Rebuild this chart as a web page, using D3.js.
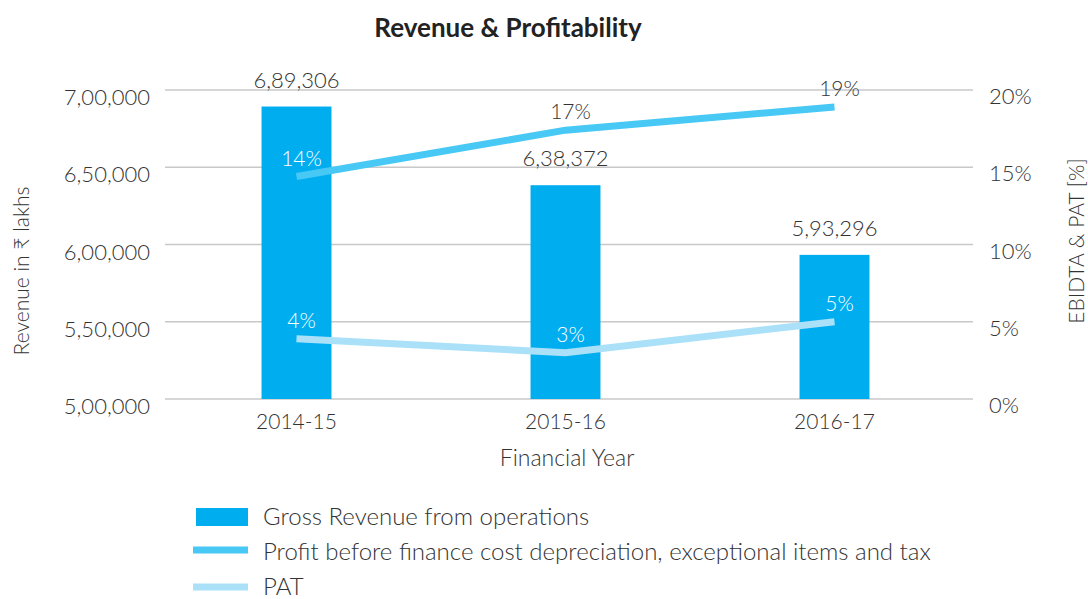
<!DOCTYPE html>
<html lang="en">
<head>
  <meta charset="UTF-8" />
  <title>Revenue & Profitability</title>
  <script src="https://d3js.org/d3.v7.min.js"></script>
  <style>
    html, body {
      margin: 0;
      padding: 0;
      background: #fff;
      overflow: hidden;
    }
    svg {
      display: block;
      font-family: 'Lato', 'Noto Sans', sans-serif;
      font-weight: 300;
      fill: #333;
    }
    .grid line { stroke: #c8c8c8; stroke-width: 1.5px; }
    .tick-lbl { font-size: 22px; fill: #333; }
  </style>
</head>
<body>
  <svg width="1088" height="599"></svg>

  <script>
    const years = ["2014-15", "2015-16", "2016-17"];
    const revenue = [689306, 638372, 593296];
    const ebitda = [14.4, 17.4, 18.9];
    const pat = [3.9, 3.0, 5.0];
    const revTicks = [500000, 550000, 600000, 650000, 700000];
    const pctTicks = [0, 5, 10, 15, 20];
    const legendLabels = [
      "Gross Revenue from operations",
      "Profit before finance cost depreciation, exceptional items and tax",
      "PAT"
    ];

    const svg = d3.select("svg");
    const colBar = "#00aeef", colEbitda = "#48c8f4", colPat = "#aae1f9";

    const x = d3.scaleBand().domain(years).range([162, 969])
      .paddingInner(0.74).paddingOuter(0.37);
    const yL = d3.scaleLinear().domain([500000, 700000]).range([399, 90]);
    const yR = d3.scaleLinear().domain([0, 20]).range([399, 90]);
    const indianFmt = v => Math.round(v).toLocaleString("en-IN");
    const cx = d => x(d) + x.bandwidth() / 2;

    // title
    svg.append("text")
      .attr("x", 508).attr("y", 37)
      .attr("text-anchor", "middle")
      .style("font-size", "26px").style("font-weight", 700).style("fill", "#222")
      .text("Revenue & Profitability");

    // gridlines
    svg.append("g").attr("class", "grid")
      .selectAll("line").data(revTicks).enter().append("line")
      .attr("x1", 165).attr("x2", 973)
      .attr("y1", d => yL(d)).attr("y2", d => yL(d));

    // left axis labels
    svg.append("g").selectAll("text").data(revTicks).enter().append("text")
      .attr("class", "tick-lbl")
      .attr("x", 150).attr("y", d => yL(d) + 15)
      .attr("text-anchor", "end")
      .text(indianFmt);

    // right axis labels
    svg.append("g").selectAll("text").data(pctTicks).enter().append("text")
      .attr("class", "tick-lbl")
      .attr("x", 989).attr("y", d => yR(d) + 14)
      .text(d => d + "%");

    // x labels
    svg.append("g").selectAll("text").data(years).enter().append("text")
      .attr("class", "tick-lbl")
      .style("font-size", "21px")
      .attr("x", cx).attr("y", 429)
      .attr("text-anchor", "middle")
      .text(d => d);

    // axis titles
    svg.append("text")
      .attr("transform", "translate(29,271) rotate(-90)")
      .attr("text-anchor", "middle")
      .style("font-size", "21px").style("fill", "#333")
      .text("Revenue in ₹ lakhs");
    svg.append("text")
      .attr("transform", "translate(1084,241) rotate(-90)")
      .attr("text-anchor", "middle")
      .style("font-size", "21px").style("fill", "#333")
      .text("EBIDTA & PAT [%]");
    svg.append("text")
      .attr("x", 567).attr("y", 466)
      .attr("text-anchor", "middle")
      .style("font-size", "23px").style("fill", "#333")
      .text("Financial Year");

    // bars
    svg.append("g").selectAll("rect").data(years).enter().append("rect")
      .attr("x", d => x(d))
      .attr("width", x.bandwidth())
      .attr("y", (d, i) => yL(revenue[i]))
      .attr("height", (d, i) => yL(500000) - yL(revenue[i]))
      .attr("fill", colBar);

    svg.append("g").selectAll("text").data(years).enter().append("text")
      .attr("class", "tick-lbl")
      .attr("x", cx)
      .attr("y", (d, i) => yL(revenue[i]) - 19)
      .attr("text-anchor", "middle")
      .text((d, i) => indianFmt(revenue[i]));

    // lines
    const line = d3.line().x(d => cx(d[0])).y(d => yR(d[1]));
    [[ebitda, colEbitda], [pat, colPat]].forEach(([vals, col]) => {
      svg.append("path")
        .datum(years.map((y, i) => [y, vals[i]]))
        .attr("d", line)
        .attr("fill", "none")
        .attr("stroke", col)
        .attr("stroke-width", 7);
    });

    // percent labels
    [ebitda, pat].forEach(vals => {
      svg.append("g").selectAll("text").data(years).enter().append("text")
        .attr("class", "tick-lbl")
        .style("font-size", "21px")
        .attr("x", d => cx(d) + 5)
        .attr("y", (d, i) => yR(vals[i]) - 11)
        .attr("text-anchor", "middle")
        .style("fill", (d, i) => yR(vals[i]) - 18 > yL(revenue[i]) ? "#fff" : "#333")
        .text((d, i) => Math.round(vals[i]) + "%");
    });

    // legend
    const lg = svg.append("g");
    lg.append("rect").attr("x", 196).attr("y", 508).attr("width", 52).attr("height", 18).attr("fill", colBar);
    lg.append("line").attr("x1", 193).attr("x2", 248).attr("y1", 550).attr("y2", 550)
      .attr("stroke", colEbitda).attr("stroke-width", 7);
    lg.append("line").attr("x1", 193).attr("x2", 248).attr("y1", 587).attr("y2", 587)
      .attr("stroke", colPat).attr("stroke-width", 7);
    lg.selectAll("text").data(legendLabels).enter().append("text")
      .attr("x", 263).attr("y", (d, i) => 525 + i * 35)
      .style("font-size", "24px").style("fill", "#333")
      .text(d => d);
  </script>
</body>
</html>
